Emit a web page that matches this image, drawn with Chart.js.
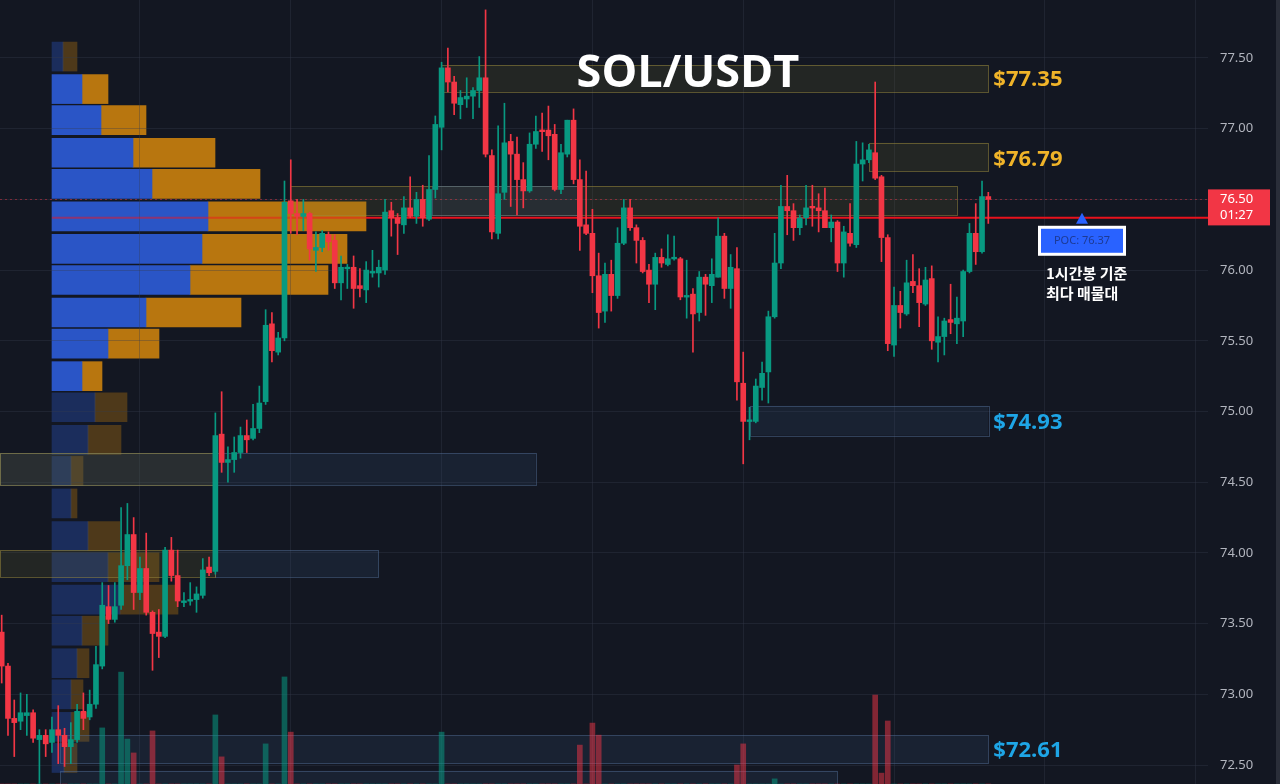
<!DOCTYPE html>
<html>
<head>
<meta charset="utf-8">
<script src="https://cdn.jsdelivr.net/npm/chart.js@4.4.1/dist/chart.umd.min.js"></script>
<style>
html, body { margin: 0; padding: 0; background: #131722; overflow: hidden; }
#wrap { position: relative; width: 1280px; height: 784px; }
#wrap canvas { position: absolute; left: 0; top: 0; }
#edge { position: absolute; right: 0; top: 0; width: 4px; height: 784px; background: #2a2e39; }
</style>
</head>
<body>
<div id="wrap">
  <canvas id="profile" width="1280" height="784"></canvas>
  <canvas id="chart" width="1280" height="784"></canvas>
  <div id="edge"></div>
</div>
<script>
// SOL/USDT 1h candles
const opens = [
  73.44,73.20,72.83,72.81,72.85,72.87,72.68,72.71,72.66,72.75,
  72.71,72.63,72.68,72.88,72.84,72.93,73.20,73.62,73.53,73.63,
  73.91,74.13,73.72,73.89,73.58,73.44,73.41,74.02,73.84,73.65,
  73.66,73.67,73.70,73.90,73.87,74.84,74.64,74.66,74.71,74.83,
  74.81,74.88,75.07,75.62,75.42,75.52,76.49,76.40,76.38,76.40,
  76.14,76.16,76.25,76.21,75.91,76.01,76.02,75.89,75.86,75.98,
  75.98,76.00,76.42,76.37,76.32,76.44,76.38,76.50,76.36,76.57,
  77.01,77.43,77.33,77.17,77.21,77.23,77.27,77.36,76.81,76.26,
  76.55,76.91,76.82,76.64,76.56,76.89,76.99,76.99,76.96,76.57,
  76.82,77.06,76.64,76.32,76.26,75.96,75.71,75.97,75.82,76.19,
  76.44,76.30,76.21,76.00,75.90,76.09,76.04,76.08,76.08,75.81,
  75.83,75.70,75.95,75.89,75.95,76.24,75.87,76.01,75.20,74.93,
  74.93,75.17,75.28,75.67,76.05,76.45,76.42,76.30,76.37,76.45,
  76.44,76.42,76.30,76.34,76.05,76.26,76.18,76.75,76.78,76.83,
  76.66,76.23,75.47,75.75,75.69,75.92,75.89,75.76,75.94,75.49,
  75.53,75.65,75.62,75.64,75.99,76.26,76.13,76.52
];
const highs = [
  73.56,73.22,72.96,73.01,73.00,72.89,72.75,72.75,72.84,72.92,
  72.76,72.80,72.93,73.01,73.03,73.34,73.79,73.77,73.79,74.32,
  74.35,74.25,73.97,74.14,73.59,73.60,74.04,74.11,74.02,73.72,
  73.79,73.76,73.96,73.97,74.99,75.14,74.75,74.82,74.89,74.94,
  75.05,75.18,75.72,75.70,75.56,76.63,76.78,76.50,76.50,76.41,
  76.27,76.28,76.27,76.25,76.10,76.04,76.10,76.01,76.06,76.14,
  76.07,76.50,76.48,76.40,76.52,76.66,76.55,76.60,76.81,77.09,
  77.47,77.57,77.37,77.27,77.36,77.29,77.51,77.84,76.85,77.02,
  77.18,76.96,76.94,76.76,76.97,77.09,77.11,77.16,77.03,76.89,
  77.06,77.14,76.78,76.70,76.43,76.12,76.05,76.07,76.30,76.50,
  76.50,76.32,76.23,76.04,76.12,76.15,76.25,76.24,76.09,76.07,
  75.87,75.99,75.97,76.08,76.37,76.26,76.11,76.16,75.42,75.03,
  75.23,75.35,75.71,76.26,76.60,76.67,76.47,76.39,76.60,76.60,
  76.54,76.58,76.39,76.35,76.31,76.47,76.91,76.90,76.89,77.33,
  76.67,76.25,75.88,75.85,76.07,76.11,76.01,76.02,76.03,75.67,
  75.66,75.90,75.81,76.00,76.33,76.47,76.63,76.55
];
const lows = [
  73.08,72.71,72.56,72.75,72.71,72.66,72.37,72.56,72.59,72.51,
  72.49,72.51,72.66,72.75,72.82,72.90,73.18,73.50,73.51,73.60,
  73.81,73.60,73.67,73.56,73.17,73.26,73.40,73.80,73.62,73.62,
  73.63,73.58,73.68,73.84,73.85,74.57,74.50,74.57,74.67,74.71,
  74.80,74.85,75.05,75.35,75.40,75.50,76.26,76.25,76.28,76.07,
  75.99,76.13,76.14,75.87,75.79,75.87,75.73,75.81,75.77,75.95,
  75.88,75.97,76.24,76.11,76.26,76.37,76.33,76.31,76.35,76.51,
  76.85,77.26,77.10,77.07,77.15,77.07,77.15,76.80,76.22,76.22,
  76.50,76.45,76.39,76.44,76.55,76.86,76.84,76.78,76.56,76.54,
  76.80,76.61,76.14,76.25,75.84,75.59,75.63,75.71,75.80,76.18,
  76.28,76.05,75.98,75.77,75.72,76.02,76.03,76.07,75.79,75.66,
  75.42,75.64,75.68,75.77,75.95,75.80,75.73,75.08,74.63,74.80,
  74.92,75.08,75.06,75.66,76.01,76.25,76.21,76.25,76.32,76.31,
  76.27,76.30,76.20,75.99,75.95,76.17,76.16,76.63,76.76,76.64,
  76.06,75.43,75.39,75.59,75.68,75.84,75.60,75.75,75.44,75.35,
  75.40,75.55,75.48,75.53,75.98,76.04,76.12,76.33
];
const closes = [
  73.20,72.83,72.80,72.87,72.87,72.69,72.71,72.65,72.75,72.71,
  72.63,72.68,72.88,72.83,72.93,73.21,73.63,73.53,73.62,73.91,
  74.13,73.72,73.89,73.58,73.43,73.41,74.02,73.84,73.66,73.66,
  73.67,73.71,73.88,73.86,74.83,74.64,74.66,74.71,74.83,74.80,
  74.88,75.06,75.61,75.43,75.52,76.48,76.40,76.38,76.40,76.15,
  76.16,76.26,76.20,75.91,76.02,76.02,75.87,75.87,76.00,75.99,
  76.02,76.41,76.37,76.33,76.44,76.38,76.50,76.37,76.57,77.03,
  77.43,77.33,77.18,77.22,77.23,77.27,77.36,76.82,76.27,76.54,
  76.90,76.82,76.64,76.56,76.89,76.98,76.98,76.95,76.57,76.83,
  77.06,76.64,76.31,76.26,75.96,75.70,75.97,75.82,76.19,76.44,
  76.30,76.21,75.99,75.90,76.09,76.05,76.08,76.09,75.81,75.82,
  75.69,75.95,75.90,75.97,76.24,75.87,76.02,75.21,74.93,74.94,
  75.18,75.27,75.67,76.05,76.45,76.42,76.30,76.37,76.44,76.44,
  76.42,76.30,76.34,76.05,76.27,76.19,76.75,76.78,76.85,76.65,
  76.23,75.48,75.75,75.70,75.91,75.89,75.77,75.93,75.50,75.53,
  75.64,75.63,75.66,75.99,76.26,76.13,76.52,76.50
];
// volume (K SOL), only the visible bars
const volume = [
  0,0,0,0,0,0,0,0,0,0,
  0,0,0,0,0,0,18.6,0,0,37.1,
  14.9,10.3,0,0,17.6,0,0,0,0,0,
  0,0,0,0,22.9,9.0,0,0,0,0,
  0,0,13.3,0,0,35.5,17.2,0,0,0,
  0,0,0,0,0,0,0,0,0,0,
  0,0,0,0,0,0,0,0,0,0,
  17.2,0,0,0,0,0,0,0,0,0,
  0,0,0,0,0,0,0,0,0,0,
  0,0,12.9,0,20.2,16.2,0,0,0,0,
  0,0,0,0,0,0,0,0,0,0,
  0,0,0,0,0,0,0,6.3,13.3,0,
  0,0,0,1.7,0,0,0,0,0,0,
  0,0,0,0,0,0,0,0,0,29.5,
  3.6,20.9,0,0,0,0,0,0,0,0,
  0,0,0,0,0,0,0,0
];

// volume profile rows
const profilePrices = [77.51,77.28,77.06,76.83,76.61,76.38,76.15,75.93,75.70,75.48,75.25,75.03,
                       74.80,74.58,74.35,74.12,73.90,73.67,73.45,73.22,73.00,72.77,72.55];
const buyVol  = [11,30,49,81,100,156,150,138,94,56,30,43,36,19,19,36,56,68,30,25,19,19,12];
const sellVol = [14,26,45,82,108,158,145,138,95,51,20,32,33,12,6,32,51,58,26,12,12,18,13];
const valueAreaHigh = 77.28;
const valueAreaLow = 75.25;
const pocPrice = 76.37;

// price axis ticks and day separators
const priceTicks = [72.5,73.0,73.5,74.0,74.5,75.0,75.5,76.0,76.5,77.0,77.5];
const dayTicks = [22,46,70,94,118,142,166,190];

// key levels: boxes [fromIdx, toIdx, low, high, kind]
const zones = [
  {from: 69.9, to: 157, lo: 77.26, hi: 77.45, kind: 'res'},
  {from: 138, to: 157, lo: 76.70, hi: 76.90, kind: 'res'},
  {from: 45.9, to: 152, lo: 76.39, hi: 76.595, kind: 'res'},
  {from: 68.5, to: 91.5, lo: 76.39, hi: 76.595, kind: 'sup'},
  {from: 119, to: 157, lo: 74.83, hi: 75.04, kind: 'sup'},
  {from: -1, to: 85, lo: 74.48, hi: 74.706, kind: 'sup'},
  {from: -1, to: 34, lo: 74.48, hi: 74.706, kind: 'res'},
  {from: 34, to: 60, lo: 73.83, hi: 74.02, kind: 'sup'},
  {from: -1, to: 34, lo: 73.83, hi: 74.02, kind: 'res'},
  {from: 9.3, to: 157, lo: 72.51, hi: 72.71, kind: 'sup'},
  {from: 9.3, to: 133, lo: 72.20, hi: 72.46, kind: 'sup'}
];
const levelLabels = [77.35, 76.79, 74.93, 72.61];
const levelKinds = ['res', 'res', 'sup', 'sup'];

const PRICE_MIN = 72.366;
const PRICE_MAX = 77.91;
const GREEN = '#089981';
const RED = '#f23645';

Chart.defaults.font.family = '"Noto Sans", sans-serif';

let inValueArea = (p) => p <= valueAreaHigh + 0.005 && p >= valueAreaLow - 0.005;

let profileChart = new Chart(document.getElementById('profile'), {
    type: 'bar',
    data: {
        datasets: [
            {
                label: 'buy',
                data: profilePrices.map((p, i) => ({x: buyVol[i], y: p})),
                backgroundColor: profilePrices.map(p => inValueArea(p) ? '#2a55c6' : 'rgba(42,85,198,0.36)'),
                barThickness: 29,
                borderWidth: 0
            },
            {
                label: 'sell',
                data: profilePrices.map((p, i) => ({x: sellVol[i], y: p})),
                backgroundColor: profilePrices.map(p => inValueArea(p) ? '#b8760f' : 'rgba(184,118,15,0.36)'),
                barThickness: 29,
                borderWidth: 0
            }
        ]
    },
    options: {
        indexAxis: 'y',
        responsive: false,
        animation: false,
        events: [],
        layout: {padding: 0, autoPadding: false},
        plugins: {legend: {display: false}, tooltip: {enabled: false}},
        scales: {
            x: {type: 'linear', min: -52, max: 1228, stacked: true, display: false},
            y: {type: 'linear', min: PRICE_MIN, max: PRICE_MAX, stacked: true, display: false, offset: false}
        }
    }
});

const idx = opens.map((_, i) => i);
const candleColors = idx.map(i => closes[i] >= opens[i] ? GREEN : RED);
const volColors = idx.map(i => closes[i] >= opens[i] ? 'rgba(8,153,129,0.55)' : 'rgba(242,54,69,0.5)');
const wickData = idx.map(i => ({x: i, y: [lows[i], highs[i]]}));
const bodyData = idx.map(i => {
    let a = opens[i], b = closes[i];
    if (Math.abs(a - b) < 0.012) {
        let m = (a + b) / 2;
        a = m - 0.006;
        b = m + 0.006;
    }
    return {x: i, y: [a, b]};
});
const volData = idx.map(i => ({x: i, y: volume[i]}));

let zonePlugin = {
    id: 'zones',
    beforeDatasetsDraw(chart) {
        const {ctx, chartArea: a, scales: {x, y}} = chart;
        ctx.save();
        zones.forEach(z => {
            let x1 = Math.max(a.left, x.getPixelForValue(z.from));
            let x2 = x.getPixelForValue(z.to);
            let y1 = y.getPixelForValue(z.hi);
            let y2 = y.getPixelForValue(z.lo);
            if (z.kind === 'res') {
                ctx.fillStyle = 'rgba(120,110,45,0.17)';
                ctx.strokeStyle = 'rgba(150,135,60,0.55)';
            } else {
                ctx.fillStyle = 'rgba(60,90,130,0.17)';
                ctx.strokeStyle = 'rgba(80,108,145,0.5)';
            }
            ctx.fillRect(x1, y1, x2 - x1, y2 - y1);
            ctx.lineWidth = 1;
            ctx.strokeRect(Math.round(x1) + 0.5, Math.round(y1) + 0.5, Math.round(x2 - x1), Math.round(y2 - y1));
        });

        // last price dotted line
        let yLast = Math.round(y.getPixelForValue(closes[closes.length - 1])) + 0.5;
        ctx.strokeStyle = 'rgba(242,54,69,0.45)';
        ctx.setLineDash([2, 3]);
        ctx.beginPath();
        ctx.moveTo(a.left, yLast);
        ctx.lineTo(a.right, yLast);
        ctx.stroke();
        ctx.setLineDash([]);

        // POC line
        let px = profileChart.scales.x;
        let pocRow = profilePrices.findIndex(p => Math.abs(p - pocPrice) < 0.02);
        let xStart = px.getPixelForValue(0);
        let xMid = px.getPixelForValue(buyVol[pocRow] + sellVol[pocRow]);
        let yPoc = y.getPixelForValue(pocPrice);
        ctx.lineWidth = 2;
        ctx.strokeStyle = 'rgba(240,20,30,0.5)';
        ctx.beginPath();
        ctx.moveTo(xStart, yPoc);
        ctx.lineTo(xMid, yPoc);
        ctx.stroke();
        ctx.strokeStyle = '#e8121c';
        ctx.beginPath();
        ctx.moveTo(xMid, yPoc);
        ctx.lineTo(a.right, yPoc);
        ctx.stroke();
        ctx.restore();
    }
};

let labelPlugin = {
    id: 'labels',
    afterDraw(chart) {
        const {ctx, chartArea: a, scales: {x, y}} = chart;
        ctx.save();

        // level labels
        let lx = x.getPixelForValue(idx.length - 1) + 5;
        ctx.font = 'bold 22px "Open Sans", "Noto Sans", sans-serif';
        ctx.textAlign = 'left';
        ctx.textBaseline = 'middle';
        levelLabels.forEach((v, i) => {
            ctx.fillStyle = levelKinds[i] === 'res' ? '#f0b429' : '#1ea5e6';
            ctx.fillText('$' + v.toFixed(2), lx, y.getPixelForValue(v) + 1);
        });

        // title
        ctx.fillStyle = '#ffffff';
        ctx.font = 'bold 45px "Open Sans", "Noto Sans", sans-serif';
        ctx.textAlign = 'center';
        ctx.textBaseline = 'alphabetic';
        ctx.fillText('SOL/USDT', 688, 87);

        // last price tag
        let last = closes[closes.length - 1];
        let yl = y.getPixelForValue(last);
        ctx.fillStyle = '#f23645';
        ctx.fillRect(a.right, yl - 10, 62, 36);
        ctx.fillStyle = '#ffffff';
        ctx.font = '13px "Noto Sans", sans-serif';
        ctx.textAlign = 'left';
        ctx.textBaseline = 'middle';
        ctx.fillText(last.toFixed(2), a.right + 12, yl);
        ctx.fillText('01:27', a.right + 12, yl + 16);

        // POC callout
        let yPoc = y.getPixelForValue(pocPrice);
        let cx = 1082;
        ctx.fillStyle = '#2962ff';
        ctx.beginPath();
        ctx.moveTo(cx, yPoc - 5);
        ctx.lineTo(cx + 6, yPoc + 6);
        ctx.lineTo(cx - 6, yPoc + 6);
        ctx.closePath();
        ctx.fill();
        ctx.fillStyle = '#ffffff';
        ctx.fillRect(cx - 44, yPoc + 8, 88, 30);
        ctx.fillStyle = '#2962ff';
        ctx.fillRect(cx - 41, yPoc + 11, 82, 24);
        ctx.fillStyle = '#1d3a94';
        ctx.font = '11px "Noto Sans", sans-serif';
        ctx.textAlign = 'center';
        ctx.fillText('POC: ' + pocPrice.toFixed(2), cx, yPoc + 23);

        ctx.fillStyle = '#ffffff';
        ctx.font = '600 15px "Noto Sans CJK KR", sans-serif';
        ctx.textAlign = 'left';
        ctx.fillText('1시간봉 기준', 1046, yPoc + 56);
        ctx.fillText('최다 매물대', 1046, yPoc + 76);
        ctx.restore();
    }
};

let mainChart = new Chart(document.getElementById('chart'), {
    type: 'bar',
    data: {
        datasets: [
            {label: 'body', data: bodyData, backgroundColor: candleColors, barThickness: 5, grouped: false, borderWidth: 0, order: 0},
            {label: 'wick', data: wickData, backgroundColor: candleColors, barThickness: 1, grouped: false, borderWidth: 0, order: 1},
            {label: 'volume', data: volData, yAxisID: 'yv', backgroundColor: volColors, barThickness: 5, grouped: false, borderWidth: 0, order: 2}
        ]
    },
    options: {
        responsive: false,
        animation: false,
        events: [],
        layout: {padding: 0, autoPadding: false},
        plugins: {legend: {display: false}, tooltip: {enabled: false}},
        scales: {
            x: {
                type: 'linear',
                min: -0.27,
                max: 191.96,
                offset: false,
                afterBuildTicks: s => { s.ticks = dayTicks.map(v => ({value: v})); },
                afterFit: s => { s.height = 0; s.paddingLeft = 0; s.paddingRight = 0; },
                ticks: {display: false},
                border: {display: false},
                grid: {color: 'rgba(54,60,78,0.35)', drawTicks: false, offset: false}
            },
            y: {
                type: 'linear',
                position: 'right',
                min: PRICE_MIN,
                max: PRICE_MAX,
                afterBuildTicks: s => { s.ticks = priceTicks.map(v => ({value: v})); },
                afterFit: s => { s.width = 72; s.paddingTop = 0; s.paddingBottom = 0; },
                ticks: {
                    padding: 12,
                    color: '#b2b5be',
                    font: {size: 13},
                    callback: v => Number(v).toFixed(2)
                },
                border: {display: false},
                grid: {color: 'rgba(54,60,78,0.35)', drawTicks: false}
            },
            yv: {display: false, min: 0, max: 260}
        }
    },
    plugins: [zonePlugin, labelPlugin]
});
</script>
</body>
</html>
